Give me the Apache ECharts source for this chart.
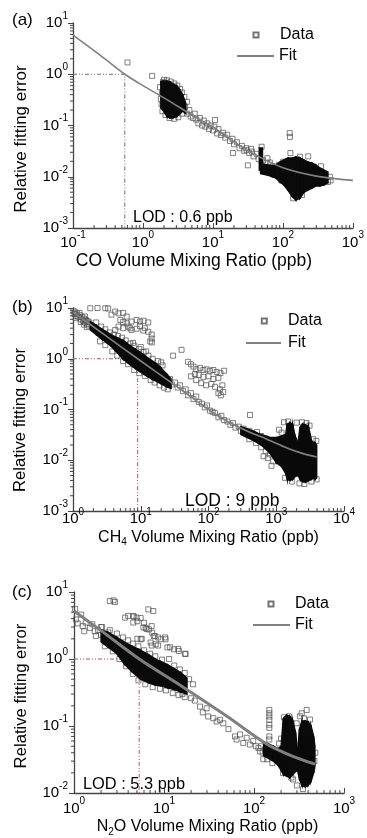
<!DOCTYPE html>
<html>
<head>
<meta charset="utf-8">
<script src="https://cdn.jsdelivr.net/npm/echarts@6/dist/echarts.min.js"></script>
<style>
  html, body { margin: 0; padding: 0; background: #fff; }
  #chart { width: 367px; height: 838px; }
</style>
</head>
<body>
<div id="chart"></div>
<script>
// values (x in ppb, y = relative fitting error)

// (a) CO
const coData = [
  [0.6, 1.7], [1.35, 0.93],
  [1.75, 0.56], [1.87, 0.43], [1.93, 0.71], [1.8, 0.33], [1.85, 0.26], [1.9, 0.19],
  [2.0, 0.78], [2.2, 0.76], [2.5, 0.72], [2.8, 0.66], [3.1, 0.6], [3.4, 0.52], [3.6, 0.44],
  [3.9, 0.36], [4.25, 0.29], [4.0, 0.23], [2.1, 0.16], [2.4, 0.14], [2.8, 0.135], [3.2, 0.145], [3.6, 0.17],
  [4.3, 0.17], [4.6, 0.2], [4.8, 0.15], [5.2, 0.14], [5.5, 0.17], [5.8, 0.13], [6.2, 0.11], [6.5, 0.14],
  [7.0, 0.1], [7.4, 0.125], [7.8, 0.095], [8.3, 0.11], [8.8, 0.085], [9.3, 0.1], [10, 0.08], [10.5, 0.095],
  [10.7, 0.128], [11.5, 0.07], [12, 0.085], [13, 0.065], [14, 0.072], [15, 0.058], [16, 0.066], [17.5, 0.05],
  [19, 0.055], [19.3, 0.029], [20, 0.043], [22, 0.047], [24, 0.036], [26, 0.04], [28, 0.032], [30, 0.036],
  [30.3, 0.033], [31.6, 0.0167], [33, 0.029], [35, 0.035], [36, 0.031], [38, 0.025], [42, 0.028], [45, 0.022],
  [49.6, 0.0385], [52, 0.021], [58, 0.0186], [65, 0.019], [72, 0.016], [76, 0.0125], [80, 0.015], [88, 0.017],
  [101, 0.0197], [125, 0.071], [126, 0.06], [128, 0.029], [175, 0.0246], [187, 0.0044], [140, 0.0038],
  [469, 0.01], [440, 0.0079], [480, 0.0085], [230, 0.025], [350, 0.016], [60, 0.023], [95, 0.0085], [160, 0.022]
];
const coFit = [
  [0.1, 5.8], [0.2, 2.9], [0.3, 1.9], [0.55, 1.0], [1, 0.6], [2.2, 0.32], [5, 0.16],
  [10, 0.093], [20, 0.048], [40, 0.027], [100, 0.015], [300, 0.0103], [1000, 0.0085]
];
// dense regions: [x, lowest y, highest y]
const coCore = [
  [1.8, 0.22, 0.72], [1.93, 0.2, 0.74], [2.2, 0.15, 0.74], [2.43, 0.14, 0.71], [2.68, 0.14, 0.65],
  [3.06, 0.15, 0.59], [3.38, 0.17, 0.49], [3.73, 0.19, 0.38], [4.1, 0.17, 0.27]
];
const coBar = [[46, 0.0136, 0.0364], [51, 0.0136, 0.0364]];
const coCluster = [
  [48, 0.0115, 0.018], [60, 0.0108, 0.017], [70, 0.01, 0.0165], [79, 0.0095, 0.0169], [91, 0.0079, 0.0194],
  [103, 0.0069, 0.0212], [118, 0.0055, 0.0232], [134, 0.0042, 0.0232], [153, 0.0035, 0.0243],
  [175, 0.0038, 0.0232], [200, 0.005, 0.0212], [228, 0.0055, 0.0194], [260, 0.006, 0.0185],
  [296, 0.0066, 0.0169], [338, 0.0066, 0.0148], [385, 0.0069, 0.0135], [440, 0.0076, 0.0124]
];
const coLod = [[0.1, 1], [0.55, 1], [0.55, 0.001]];

// (b) CH4
const ch4Data = [
  [1.02, 8.8], [1.05, 7.6], [1.08, 8.2], [1.1, 6.3], [1.12, 7.0], [1.15, 7.8], [1.2, 6.6], [1.25, 7.2],
  [1.25, 8.0], [1.3, 6.0], [1.3, 5.3], [1.35, 6.7], [1.4, 5.6], [1.45, 6.2], [1.45, 4.7], [1.5, 5.2],
  [1.5, 6.8], [1.55, 5.8], [1.6, 4.8], [1.6, 4.2], [1.65, 5.5], [1.7, 4.5], [1.75, 5.2],
  [1.8, 9.9], [2.3, 10], [3.0, 9.9], [3.3, 9.8],
  [2.2, 5.2], [2.6, 4.3], [3.0, 3.8], [3.5, 3.3], [4.0, 3.0], [4.6, 2.8], [5.3, 2.6], [6.0, 2.3],
  [7.0, 2.0], [7.7, 2.05], [8.0, 1.8], [9.5, 1.55], [10, 1.7], [11, 1.35], [12, 1.4], [13, 1.15],
  [15, 1.0], [18, 0.9], [20, 0.85], [21, 0.74],
  [2.5, 2.2], [3.0, 1.85], [3.8, 1.4], [4.5, 1.15], [5.5, 0.9], [6.5, 0.78], [8, 0.6], [9.5, 0.52],
  [11.5, 0.46], [14, 0.38], [16, 0.34], [19, 0.3], [22, 0.27], [25, 0.25],
  [3.7, 7.4], [4.2, 8.5], [4.7, 7.85], [5.5, 8.0], [6.2, 6.8], [5.0, 5.8], [5.5, 5.3], [6.2, 5.0],
  [7.3, 5.4], [8.7, 5.8], [9.75, 5.4], [11, 5.6], [12.9, 5.2], [4.2, 3.7], [4.7, 4.3], [5.5, 4.0],
  [6.6, 4.3], [7.0, 4.0], [7.3, 3.7], [8.7, 3.9], [9.75, 4.4], [10.9, 3.6], [11.5, 4.0], [12.9, 3.4],
  [14.5, 3.0], [14.5, 2.5], [13.8, 2.2], [14.6, 2.1],
  [30, 1.15], [40, 1.5], [50, 0.87], [55, 0.78], [60, 0.7], [66, 0.62], [75, 0.66], [84, 0.6],
  [94, 0.62], [105, 0.58], [118, 0.6], [132, 0.55], [150, 0.52], [170, 0.58], [63, 0.5], [72, 0.48],
  [84, 0.44], [100, 0.45], [118, 0.4], [140, 0.42], [55, 0.45], [66, 0.38], [78, 0.33], [92, 0.3],
  [110, 0.32], [125, 0.28], [148, 0.25], [160, 0.3], [140, 0.21], [152, 0.19], [165, 0.22], [410, 0.078],
  [20, 0.5], [21, 0.42], [23, 0.45], [25, 0.36], [27, 0.4], [29, 0.31], [32, 0.34], [35, 0.27],
  [38, 0.3], [42, 0.23], [46, 0.25], [50, 0.19], [55, 0.21], [60, 0.16], [66, 0.18], [72, 0.14],
  [80, 0.13], [88, 0.11], [95, 0.12], [105, 0.095], [115, 0.09], [125, 0.085], [140, 0.07], [155, 0.075],
  [170, 0.062], [190, 0.058], [210, 0.05], [230, 0.054], [250, 0.044], [280, 0.046], [300, 0.038],
  [330, 0.042], [360, 0.034], [400, 0.038], [420, 0.03], [460, 0.033], [500, 0.028], [520, 0.036],
  [560, 0.025], [600, 0.03], [650, 0.022], [700, 0.027], [750, 0.02], [800, 0.024], [850, 0.018],
  [900, 0.021], [950, 0.016], [400, 0.026], [500, 0.022], [600, 0.018], [700, 0.015], [800, 0.013],
  [650, 0.012], [750, 0.011], [900, 0.0095], [850, 0.0078],
  [1100, 0.04], [1300, 0.056], [1500, 0.058], [1650, 0.045], [2000, 0.055], [2400, 0.056], [2800, 0.054],
  [3100, 0.048], [3500, 0.026], [3900, 0.024], [3950, 0.0042], [1350, 0.0045], [1700, 0.0038],
  [2200, 0.0035], [2600, 0.0034], [3300, 0.0038], [1000, 0.02], [900, 0.025], [1200, 0.035]
];
const ch4Fit = [
  [1, 8.3], [3, 2.9], [9, 1.0], [30, 0.32], [100, 0.1], [200, 0.056], [400, 0.036],
  [727, 0.026], [1500, 0.017], [2500, 0.0135], [3950, 0.0116]
];
const ch4Core = [
  [1.8, 3.7, 5.4], [2.2, 3.0, 4.6], [2.7, 2.4, 3.8], [3.1, 2.1, 3.4], [3.6, 1.8, 3.0], [4.2, 1.45, 2.7],
  [4.8, 1.2, 2.5], [5.5, 0.98, 2.3], [6.3, 0.85, 2.0], [7.2, 0.74, 1.75], [8.3, 0.64, 1.55],
  [9.5, 0.57, 1.38], [11, 0.5, 1.2], [12.5, 0.45, 1.05], [14.5, 0.4, 0.92], [17, 0.36, 0.8],
  [20, 0.32, 0.66], [24, 0.28, 0.5], [28, 0.26, 0.4]
];
const ch4Cluster = [
  [300, 0.032, 0.046], [450, 0.025, 0.038], [600, 0.02, 0.032], [800, 0.014, 0.028], [1000, 0.009, 0.028],
  [1200, 0.0075, 0.03], [1380, 0.0055, 0.032], [1450, 0.0042, 0.052], [1600, 0.004, 0.055],
  [1750, 0.0042, 0.05], [1900, 0.0048, 0.03], [2100, 0.005, 0.022], [2250, 0.0042, 0.045],
  [2450, 0.0038, 0.052], [2700, 0.0037, 0.05], [3000, 0.004, 0.045], [3300, 0.0042, 0.025],
  [3500, 0.0045, 0.022], [3750, 0.0042, 0.022], [3950, 0.0045, 0.02]
];
const ch4Lod = [[1, 1], [9, 1], [9, 0.001]];

// (c) N2O
const n2oData = [
  [1.03, 5.6], [1.05, 3.9], [1.1, 3.4], [1.2, 4.6], [1.25, 3.1], [1.3, 2.6], [1.35, 3.5], [1.5, 2.9],
  [1.6, 3.3], [1.7, 2.6], [1.75, 2.2], [1.85, 2.7], [2.0, 2.3], [2.05, 3.0], [2.2, 2.0], [2.4, 2.5], [2.6, 1.9],
  [2.5, 7.3], [2.75, 7.5], [2.85, 7.1], [3.7, 4.15], [4.0, 4.4], [4.56, 4.4], [4.97, 4.15], [4.56, 3.5],
  [6.7, 5.5], [7.6, 5.2], [5.9, 2.96], [6.4, 2.8], [7.3, 3.1], [7.9, 2.2], [8.6, 2.1], [10.3, 2.1],
  [5.65, 2.0], [5.06, 2.0], [14.4, 1.42], [17.1, 1.2], [11.7, 1.5], [8.6, 1.59], [7.3, 1.59],
  [4.6, 4.3], [5.06, 3.66], [5.5, 4.1], [6.0, 3.47], [6.25, 2.92], [6.8, 2.76], [7.4, 2.47], [7.7, 2.2],
  [5.5, 1.97], [7.1, 1.76], [8.1, 1.66], [9.2, 1.97], [10.4, 1.97], [10.9, 1.49], [12.9, 1.4], [11.4, 1.0],
  [14.6, 1.32], [17.4, 1.19],
  [2.0, 3.0], [2.5, 2.7], [3.0, 2.4], [3.5, 2.1], [4.0, 1.9], [4.5, 1.7], [5.2, 1.55], [6.0, 1.35],
  [7.0, 1.2], [8.0, 1.1], [9.5, 0.98], [13, 0.8], [15, 0.7], [17, 0.62], [19, 0.5], [21, 0.42],
  [2.2, 1.55], [2.7, 1.3], [3.2, 1.0], [3.8, 0.78], [4.5, 0.6], [5.2, 0.48], [6.2, 0.42], [7.5, 0.38],
  [9, 0.36], [10.5, 0.34], [12.5, 0.31], [14.5, 0.29], [17, 0.27], [16, 0.3],
  [20, 0.26], [22, 0.24], [25.1, 0.195], [27, 0.16], [29.8, 0.184], [31, 0.139], [35.3, 0.131],
  [38.5, 0.117], [41.9, 0.124], [45.6, 0.11], [52, 0.09], [61.5, 0.07], [64, 0.063], [70, 0.075],
  [76, 0.056], [83, 0.067], [90, 0.053], [98, 0.06], [105, 0.05], [112, 0.047], [117, 0.042],
  [127, 0.032], [132, 0.045],
  [148, 0.174], [148, 0.155], [148, 0.139], [148, 0.124], [148, 0.105], [148, 0.094], [148, 0.07], [148, 0.063],
  [339, 0.155], [385, 0.174], [298, 0.11], [324, 0.14], [272, 0.016], [230, 0.125], [215, 0.135],
  [245, 0.14], [360, 0.13], [420, 0.125], [200, 0.065], [190, 0.055], [470, 0.03], [480, 0.04],
  [300, 0.013], [350, 0.0115], [260, 0.017], [210, 0.02], [140, 0.032], [160, 0.028], [125, 0.04], [120, 0.05]
];
const n2oFit = [
  [1, 5.2], [2, 2.65], [5.3, 1.0], [15, 0.41], [50, 0.14], [138, 0.054], [250, 0.037], [476, 0.027]
];
const n2oCore = [
  [2.0, 1.8, 2.7], [2.4, 1.5, 2.5], [3.0, 1.2, 2.1], [3.6, 0.85, 1.8], [4.4, 0.65, 1.55],
  [5.5, 0.5, 1.35], [6.8, 0.44, 1.15], [8.0, 0.41, 1.0], [9.2, 0.4, 0.92], [11, 0.37, 0.82],
  [13, 0.35, 0.72], [15.5, 0.32, 0.62], [18, 0.3, 0.52]
];
const n2oCluster = [
  [128, 0.036, 0.058], [145, 0.033, 0.054], [165, 0.03, 0.05], [185, 0.026, 0.046], [200, 0.022, 0.05],
  [212, 0.019, 0.13], [230, 0.018, 0.145], [250, 0.017, 0.14], [270, 0.019, 0.12], [290, 0.021, 0.08],
  [305, 0.022, 0.04], [320, 0.016, 0.09], [340, 0.013, 0.118], [370, 0.0125, 0.12], [400, 0.013, 0.115],
  [430, 0.015, 0.1], [460, 0.02, 0.07], [475, 0.025, 0.05]
];
const n2oLod = [[1, 1], [5.3, 1], [5.3, 0.01]];

// minor ticks sit at 2..9 of each decade
const minorSteps = [2, 3, 4, 5, 6, 7, 8, 9];

const FONT = "'Liberation Sans', Arial, sans-serif";
const AXIS = '#444';
const GRAY = '#808080';
const LODRED = '#b4505c';

function powLabel(v) {
  const e = Math.round(Math.log10(v));
  return '{b|10}{e|' + e + '}';
}
const tickRich = {
  b: { fontSize: 15, lineHeight: 24, fontFamily: FONT, color: '#000' },
  e: { fontSize: 10, lineHeight: 10, verticalAlign: 'top', fontFamily: FONT, color: '#000' }
};

function xAxis(grid, min, max, name, size, margin, gap, pad) {
  return {
    type: 'log', logBase: 10, gridIndex: grid, min: min, max: max,
    name: name, nameLocation: 'middle', nameGap: gap,
    nameTextStyle: {
      fontFamily: FONT, fontSize: size, color: '#000', lineHeight: 20, padding: pad,
      rich: { s: { fontFamily: FONT, fontSize: 10, lineHeight: 2, verticalAlign: 'bottom', color: '#000' } }
    },
    axisLine: { show: true, onZero: false, lineStyle: { color: AXIS, width: 1.3 } },
    axisTick: { show: true, inside: true, length: 5, lineStyle: { color: AXIS } },
    axisLabel: { margin: margin, formatter: powLabel, rich: tickRich },
    splitLine: { show: false }
  };
}
function yAxis(grid, min, max, gap, pad, size, margin) {
  return {
    type: 'log', logBase: 10, gridIndex: grid, min: min, max: max,
    name: 'Relative fitting error', nameLocation: 'middle', nameGap: gap,
    nameTextStyle: { fontFamily: FONT, fontSize: size, color: '#000', lineHeight: 20, padding: pad },
    axisLine: { show: true, onZero: false, lineStyle: { color: AXIS, width: 1.3 } },
    axisTick: { show: true, inside: false, length: 5, lineStyle: { color: AXIS } },
    axisLabel: { margin: margin, formatter: powLabel, rich: tickRich },
    splitLine: { show: false }
  };
}

function scatter(name, i, data) {
  return {
    name: name, type: 'scatter', xAxisIndex: i, yAxisIndex: i, data: data,
    symbol: 'rect', symbolSize: 5, z: 3,
    itemStyle: { color: 'rgba(255,255,255,0)', borderColor: '#505050', borderWidth: 0.9 }
  };
}
// a dense patch, drawn as filled strips between neighbouring [x, ylo, yhi] columns
function dense(i, list) {
  return {
    type: 'custom', xAxisIndex: i, yAxisIndex: i, data: list, z: 4, silent: true,
    encode: { x: 0, y: [1, 2] },
    renderItem: function (params, api) {
      const k = params.dataIndex;
      if (k >= list.length - 1) return null;
      const a = list[k], b = list[k + 1];
      return {
        type: 'polygon',
        shape: { points: [api.coord([a[0], a[1]]), api.coord([a[0], a[2]]), api.coord([b[0], b[2]]), api.coord([b[0], b[1]])] },
        style: { fill: '#0a0a0a', stroke: '#0a0a0a', lineWidth: 1.5 }
      };
    }
  };
}
function fit(name, i, data, width) {
  return {
    name: name, type: 'line', xAxisIndex: i, yAxisIndex: i, data: data, smooth: 0.3,
    symbol: 'none', z: 5, itemStyle: { color: GRAY }, lineStyle: { color: GRAY, width: width }
  };
}
function lod(i, data, color) {
  return {
    type: 'line', xAxisIndex: i, yAxisIndex: i, data: data, symbol: 'none', z: 2, silent: true,
    lineStyle: { color: color, width: 1, type: [4, 2, 1, 2, 1, 2] }
  };
}
// short minor tick marks placed through the axis scale
function minorTicks(i, lo, hi, dir, edge) {
  const vals = [];
  for (let e = lo; e < hi; e++) minorSteps.forEach(function (m) { vals.push(m * Math.pow(10, e)); });
  const data = vals.map(function (v) { return dir === 'x' ? [v, edge] : [edge, v]; });
  return {
    type: 'custom', xAxisIndex: i, yAxisIndex: i, data: data, z: 6, silent: true, clip: false,
    encode: { x: 0, y: 1 },
    renderItem: function (params, api) {
      const p = api.coord([api.value(0), api.value(1)]);
      const shape = dir === 'x'
        ? { x1: p[0], y1: p[1], x2: p[0], y2: p[1] - 3 }
        : { x1: p[0], y1: p[1], x2: p[0] - 3, y2: p[1] };
      return { type: 'line', shape: shape, style: { stroke: AXIS, lineWidth: 1 } };
    }
  };
}
function legend(name, left, top, w, h, textPad) {
  return {
    orient: 'vertical', left: left, top: top, padding: 0, itemWidth: w, itemHeight: h,
    data: [name], formatter: function (n) { return n.split(' ')[0]; }, selectedMode: false,
    textStyle: { fontFamily: FONT, fontSize: 16, color: '#000', padding: [0, 0, 0, textPad] }
  };
}
function txt(t, x, y, size) {
  return {
    type: 'text', x: x, y: y, silent: true,
    style: { text: t, fontFamily: FONT, fontSize: size, fill: '#000', align: 'left', verticalAlign: 'middle' }
  };
}

const chart = echarts.init(document.getElementById('chart'));
chart.setOption({
  animation: false,
  backgroundColor: '#fff',
  textStyle: { fontFamily: FONT },
  grid: [
    { left: 73, top: 23, width: 280, height: 205 },
    { left: 73, top: 308, width: 271, height: 203 },
    { left: 74, top: 592, width: 270, height: 204 }
  ],
  xAxis: [
    xAxis(0, 0.1, 1000, 'CO Volume Mixing Ratio (ppb)', 17.5, 2.5, 19, [0, 38, 0, 0]),
    xAxis(1, 1, 10000, 'CH{s|4} Volume Mixing Ratio (ppb)', 16, -4, 13, [0, 0, 0, 0]),
    xAxis(2, 1, 1000, 'N{s|2}O Volume Mixing Ratio (ppb)', 16, 3.5, 23, [0, 3, 0, 0])
  ],
  yAxis: [
    yAxis(0, 0.001, 10, 34.5, [0, 27, 0, 0], 17, 5),
    yAxis(1, 0.001, 10, 42.5, [0, 21, 0, 0], 16.6, 5),
    yAxis(2, 0.01, 10, 38, [0, 7, 0, 0], 16.7, 6)
  ],
  legend: [
    legend('Data a', 252.5, 27, 5, 5, 16.5), legend('Fit a', 236, 48, 37, 1, 0),
    legend('Data b', 260.8, 313, 5, 5, 16.2), legend('Fit b', 245, 335, 35, 1, 2),
    legend('Data c', 267.5, 596, 5, 5, 16.5), legend('Fit c', 252, 617, 37, 1, 0)
  ],
  graphic: [
    txt('(a)', 12, 20, 17), txt('(b)', 12, 307.5, 17), txt('(c)', 12, 592.5, 17),
    txt('LOD : 0.6 ppb', 133, 217.5, 16), txt('LOD : 9 ppb', 185, 501.5, 17.5), txt('LOD : 5.3 ppb', 83, 784.5, 16.4)
  ],
  series: [
    scatter('Data a', 0, coData), dense(0, coCore), dense(0, coBar), dense(0, coCluster),
    fit('Fit a', 0, coFit, 1.6), lod(0, coLod, '#707070'),
    minorTicks(0, -1, 3, 'x', 0.001), minorTicks(0, -3, 1, 'y', 0.1),
    scatter('Data b', 1, ch4Data), dense(1, ch4Core), dense(1, ch4Cluster),
    fit('Fit b', 1, ch4Fit, 1.6), lod(1, ch4Lod, LODRED),
    minorTicks(1, 0, 4, 'x', 0.001), minorTicks(1, -3, 1, 'y', 1),
    scatter('Data c', 2, n2oData), dense(2, n2oCore), dense(2, n2oCluster),
    fit('Fit c', 2, n2oFit, 3), lod(2, n2oLod, LODRED),
    minorTicks(2, 0, 3, 'x', 0.01), minorTicks(2, -2, 1, 'y', 1)
  ]
});
</script>
</body>
</html>
